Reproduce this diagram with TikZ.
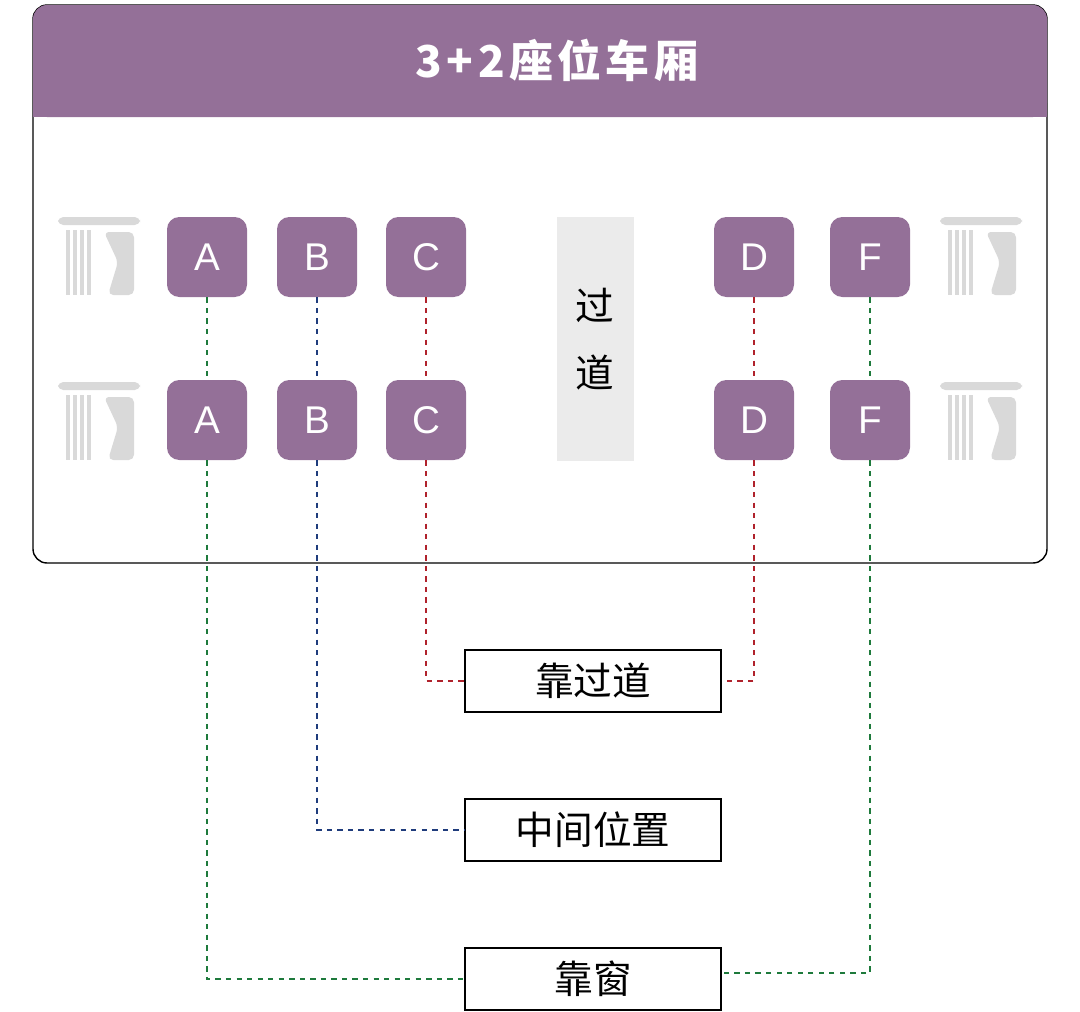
\documentclass[tikz,border=0pt]{standalone}
\usepackage{fontspec}
\setmainfont{Liberation Sans}
\newfontfamily\cjk{Noto Sans CJK SC}
\newfontfamily\cjkwide[LetterSpace=10]{Noto Sans CJK SC}
\usetikzlibrary{positioning}
\definecolor{seatpurple}{HTML}{947098}
\definecolor{aislegray}{HTML}{EBEBEB}
\definecolor{curtaingray}{HTML}{D9D9D9}
\definecolor{winline}{HTML}{1E7A3C}
\definecolor{midline}{HTML}{1F3C7C}
\definecolor{aisleline}{HTML}{B0222C}

\tikzset{
  seat/.style={fill=seatpurple, rounded corners=7pt, minimum width=80*0.02cm, minimum height=80*0.02cm, text=white, font=\fontsize{22}{22}\selectfont},
  tag/.style={draw=black, thick, fill=white, minimum width=256*0.02cm, minimum height=62*0.02cm, font=\cjk\fontsize{22}{22}\selectfont},
  link/.style={dashed, thick}
}

% one curtain icon
\newcommand{\curtain}[2]{%
  \begin{scope}[shift={(#1,#2)}]
    \fill[curtaingray, rounded corners=3pt] (0,0) rectangle (82,8);
    \foreach \k in {0,1,2,3} \fill[curtaingray] (8+\k*7,13) rectangle (12+\k*7,78);
    \fill[curtaingray, rounded corners=3pt] (46,15) -- (76,15) -- (76,78) -- (50,78) -- (60,45) -- cycle;
  \end{scope}}

\begin{document}
\begin{tikzpicture}[x=0.02cm, y=-0.02cm]
  \useasboundingbox (0,0) rectangle (1080,1012);

  % car body and header
  \draw[thick, rounded corners=8pt] (33,5) rectangle (1047,563);
  \fill[seatpurple, rounded corners=8pt] (33,5) -- (1047,5) -- (1047,117) -- (33,117) -- cycle;
  \fill[seatpurple] (33,60) rectangle (1047,117);
  \node[text=white, font=\cjkwide\bfseries\fontsize{25}{25}\selectfont] (title) at (557,60) {3+2座位车厢};

  % aisle
  \fill[aislegray] (557,217) rectangle (634,461);
  \node[font=\cjk\fontsize{22}{22}\selectfont] (guo) at (595,305) {过};
  \node[font=\cjk\fontsize{22}{22}\selectfont] (dao) at (595,372) {道};

  % curtains
  \curtain{58}{217}
  \curtain{58}{382}
  \curtain{940}{217}
  \curtain{940}{382}

  % seats
  \foreach \s/\x in {A/207, B/317, C/426, D/754, F/870} {
    \node[seat] (\s1) at (\x,257) {\s};
    \node[seat] (\s2) at (\x,420) {\s};
  }

  % label boxes
  \node[tag] (aisle) at (593,681) {靠过道};
  \node[tag] (middle) at (593,830) {中间位置};
  \node[tag] (window) at (593,979) {靠窗};

  % connectors
  \draw[link, winline] (A1) -- (A2);
  \draw[link, midline] (B1) -- (B2);
  \draw[link, aisleline] (C1) -- (C2);
  \draw[link, aisleline] (D1) -- (D2);
  \draw[link, winline] (F1) -- (F2);
  \draw[link, aisleline] (C2) |- (aisle);
  \draw[link, aisleline] (D2) |- (aisle);
  \draw[link, midline] (B2) |- (middle);
  \draw[link, winline] (A2) |- (window);
  \draw[link, winline] (F2) |- (window.east |- 0,973);
\end{tikzpicture}
\end{document}
